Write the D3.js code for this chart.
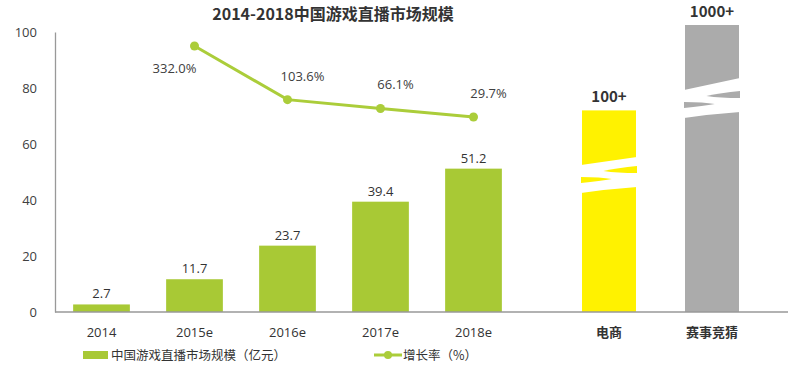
<!DOCTYPE html>
<html><head><meta charset="utf-8">
<script src="https://cdn.jsdelivr.net/npm/d3@7"></script>
<style>
body{margin:0;background:#fff;}
text{font-family:"Noto Sans CJK SC","Noto Sans",sans-serif;}
</style></head>
<body><svg id="c" width="800" height="366"></svg>
<script>
const title = "2014-2018中国游戏直播市场规模";
const years = ["2014","2015e","2016e","2017e","2018e"];
const marketSize = [2.7, 11.7, 23.7, 39.4, 51.2];
const growthYears = ["2015e","2016e","2017e","2018e"];
const growthRate = [332.0, 103.6, 66.1, 29.7];
const otherCats = ["电商","赛事竞猜"];
const otherLabels = ["100+","1000+"];
const otherDisplayHeight = [72, 102.5]; // broken-axis visual height
const otherColors = ["#fff200","#ababab"];
const yTicks = [0,20,40,60,80,100];
const legendLabels = ["中国游戏直播市场规模（亿元）","增长率（%）"];

const green = "#a8c935", lineGreen = "#abcd3a";
const svg = d3.select("#c");

const y = d3.scaleLinear().domain([0,100]).range([312,32]);
const y2 = d3.scaleLinear().domain([0,400]).range([124,30]);
const x = d3.scaleBand().domain(years).range([55,520]).paddingInner(0.39).paddingOuter(0.195);
const x2 = d3.scaleBand().domain(otherCats).range([557.5,763.5]).paddingInner(0.476).paddingOuter(0.238);

// title
svg.append("text").attr("x",333).attr("y",20).attr("text-anchor","middle")
  .attr("font-size",16).attr("font-weight","bold").attr("fill","#333").text(title);

// y axis
const ya = svg.append("g").attr("transform","translate(55,0)")
  .call(d3.axisLeft(y).tickValues(yTicks).tickSize(0).tickPadding(18));
ya.select(".domain").attr("stroke","#999").attr("stroke-width",1.3);
ya.selectAll("text").attr("font-size",13).attr("fill","#404040")
  .style("font-family","'Open Sans','Noto Sans',sans-serif");

// bars
svg.append("g").selectAll("rect").data(years).join("rect")
  .attr("x",d=>x(d)).attr("width",x.bandwidth())
  .attr("y",(d,i)=>y(marketSize[i])).attr("height",(d,i)=>y(0)-y(marketSize[i]))
  .attr("fill",green);
svg.append("g").selectAll("text").data(years).join("text")
  .attr("x",d=>x(d)+x.bandwidth()/2).attr("y",(d,i)=>y(marketSize[i])-6)
  .attr("text-anchor","middle").attr("font-size",13).attr("fill","#333")
  .style("font-family","'Open Sans','Noto Sans',sans-serif")
  .text((d,i)=>marketSize[i].toFixed(1));

// other bars
const ob = svg.append("g");
otherCats.forEach((c,i)=>{
  ob.append("rect").attr("x",x2(c)).attr("width",x2.bandwidth())
    .attr("y",y(otherDisplayHeight[i])).attr("height",y(0)-y(otherDisplayHeight[i]))
    .attr("fill",otherColors[i]);
  ob.append("text").attr("x",x2(c)+x2.bandwidth()/2).attr("y",y(otherDisplayHeight[i])-8)
    .attr("text-anchor","middle").attr("font-size",15).attr("font-weight","bold").attr("fill","#333")
    .text(otherLabels[i]);
});
// break marks (relative to bar)
function brk(c, top, s, col){
  const L = x2(c)-1, R = x2(c)+x2.bandwidth()+1, W = R-L;
  ob.append("path").attr("fill","#fff")
    .attr("d",`M${L},${top} L${R},${top-s} L${R},${top+22} Q${L+W*0.5},${top+24} ${L},${top+28} Z`);
  ob.append("path").attr("fill",col)
    .attr("d",`M${R},${top+1} Q${L+W*0.65},${top+3} ${L+W*0.4},${top+6} Q${L+W*0.65},${top+8} ${R},${top+8} Z`);
  ob.append("path").attr("fill",col)
    .attr("d",`M${L},${top+12} Q${L+W*0.35},${top+12} ${L+W*0.55},${top+14} Q${L+W*0.35},${top+16} ${L},${top+18} Z`);
}
brk(otherCats[0],165,8,otherColors[0]);
brk(otherCats[1],90,12,otherColors[1]);

// x baseline
svg.append("line").attr("x1",55).attr("x2",788).attr("y1",312).attr("y2",312)
  .attr("stroke","#999").attr("stroke-width",1.3);

// x labels
svg.append("g").selectAll("text").data(years).join("text")
  .attr("x",d=>x(d)+x.bandwidth()/2).attr("y",337).attr("text-anchor","middle")
  .attr("font-size",13).attr("fill","#333")
  .style("font-family","'Open Sans','Noto Sans',sans-serif").text(d=>d);
svg.append("g").selectAll("text").data(otherCats).join("text")
  .attr("x",d=>x2(d)+x2.bandwidth()/2).attr("y",337).attr("text-anchor","middle")
  .attr("font-size",13).attr("font-weight","bold").attr("fill","#333").text(d=>d);

// growth line
const gx = d=>x(d)+x.bandwidth()/2;
svg.append("path").datum(growthYears)
  .attr("d",d3.line().x(d=>gx(d)).y((d,i)=>y2(growthRate[i])))
  .attr("fill","none").attr("stroke",lineGreen).attr("stroke-width",3);
svg.append("g").selectAll("circle").data(growthYears).join("circle")
  .attr("cx",d=>gx(d)).attr("cy",(d,i)=>y2(growthRate[i])).attr("r",4.5).attr("fill",lineGreen);
svg.append("g").selectAll("text").data(growthYears).join("text")
  .attr("x",(d,i)=>gx(d)+(i===0?-20:15)).attr("y",(d,i)=>y2(growthRate[i])+(i===0?27:-19))
  .attr("text-anchor","middle").attr("font-size",13).attr("fill","#404040")
  .style("font-family","'Open Sans','Noto Sans',sans-serif")
  .text((d,i)=>growthRate[i].toFixed(1)+"%");

// legend
const lg = svg.append("g");
lg.append("rect").attr("x",83).attr("y",351).attr("width",25).attr("height",8).attr("fill",green);
lg.append("text").attr("x",111).attr("y",360).attr("font-size",12.5).attr("fill","#333").text(legendLabels[0]);
lg.append("line").attr("x1",374).attr("x2",402).attr("y1",355).attr("y2",355).attr("stroke",lineGreen).attr("stroke-width",3);
lg.append("circle").attr("cx",388).attr("cy",355).attr("r",4).attr("fill",lineGreen);
lg.append("text").attr("x",403).attr("y",360).attr("font-size",12.5).attr("fill","#333").text(legendLabels[1]);
</script></body></html>
